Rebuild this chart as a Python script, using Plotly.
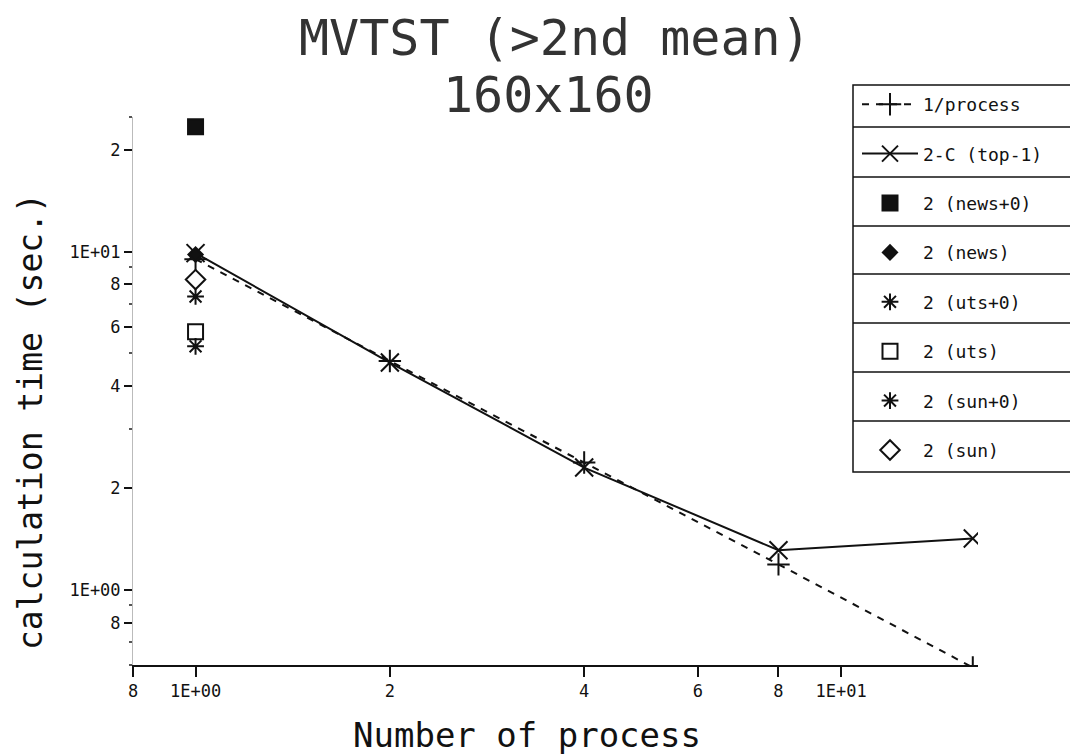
import plotly.graph_objects as go
import math

# ---- data ----
procs = [1, 2, 4, 8, 16]
ideal_time = [9.5, 4.75, 2.38, 1.19, 0.59]          # 1/process
top1_time = [9.9, 4.7, 2.3, 1.31, 1.42]              # 2-C (top-1)
single_x = [1]
news0_time = [23.4]
news_time = [9.8]
uts0_time = [7.37]
uts_time = [5.8]
sun0_time = [5.25]
sun_time = [8.27]

x_tickvals = [0.8, 1, 2, 4, 6, 8, 10]
x_ticktext = ["8", "1E+00", "2", "4", "6", "8", "1E+01"]
y_tickvals = [0.8, 1, 2, 4, 6, 8, 10, 20]
y_ticktext = ["8", "1E+00", "2", "4", "6", "8", "1E+01", "2"]
y_minor = [0.6, 0.7, 0.9, 3, 5, 7, 9, 25]

FONT = "DejaVu Sans Mono"
INK = "#111111"

fig = go.Figure()

def add(name, x, y, symbol, size, mode="markers", dash=None):
    fig.add_trace(go.Scatter(
        x=x, y=y, name=name, mode=mode,
        line=dict(color=INK, width=2, dash=dash) if "lines" in mode else None,
        marker=dict(symbol=symbol, size=size, color=INK,
                    line=dict(color=INK, width=2)),
        legendgroup=name,
    ))

add("1/process", procs, ideal_time, "cross-thin-open", 16, mode="lines+markers", dash="7px,7px")
add("2-C (top-1)", procs, top1_time, "x-thin-open", 18, mode="lines+markers")
add("2 (news+0)", single_x, news0_time, "square", 15)
add("2 (news)", single_x, news_time, "diamond", 11)
add("2 (uts+0)", single_x, uts0_time, "asterisk-open", 14)
add("2 (uts)", single_x, uts_time, "square-open", 15)
add("2 (sun+0)", single_x, sun0_time, "asterisk-open", 14)
add("2 (sun)", single_x, sun_time, "diamond-open", 15)

L, R, T, B = 133, 92, 117, 91
W, H = 1070, 756
pw, ph = W - L - R, H - T - B

def py(p):
    return (H - B - p) / ph

def px(p):
    return (p - L) / pw

# legend frame and separators
shapes = [dict(type="rect", xref="paper", yref="paper",
               x0=px(853), x1=px(1080), y0=py(472), y1=py(85),
               line=dict(color=INK, width=1.5))]
for s in [127, 177, 226, 274, 323, 372, 421]:
    shapes.append(dict(type="line", xref="paper", yref="paper",
                       x0=px(853), x1=px(1080), y0=py(s), y1=py(s),
                       line=dict(color=INK, width=1.5)))

annotations = [
    dict(text="MVTST (>2nd mean)", xref="paper", yref="paper", x=px(555), y=py(38),
         xanchor="center", yanchor="middle", showarrow=False,
         font=dict(family=FONT, size=50, color="#333")),
    dict(text="160x160", xref="paper", yref="paper", x=px(548), y=py(95),
         xanchor="center", yanchor="middle", showarrow=False,
         font=dict(family=FONT, size=50, color="#333")),
    dict(text="Number of process", xref="paper", yref="paper", x=px(527), y=py(735),
         xanchor="center", yanchor="middle", showarrow=False,
         font=dict(family=FONT, size=34, color=INK)),
    dict(text="calculation time (sec.)", xref="paper", yref="paper", x=px(30), y=py(422),
         xanchor="center", yanchor="middle", showarrow=False, textangle=-90,
         font=dict(family=FONT, size=33, color=INK)),
]

fig.update_layout(
    width=W, height=H,
    margin=dict(l=L, r=R, t=T, b=B),
    paper_bgcolor="white", plot_bgcolor="white",
    font=dict(family=FONT, color=INK),
    showlegend=True,
    legend=dict(x=px(857), y=py(86), xanchor="left", yanchor="top",
                borderwidth=0, bgcolor="rgba(0,0,0,0)",
                font=dict(family=FONT, size=18, color=INK),
                tracegroupgap=23, itemwidth=56, maxheight=1.0),
    shapes=shapes,
    annotations=annotations,
)

fig.update_xaxes(type="log", range=[math.log10(0.8), math.log10(16.3)],
                 tickvals=x_tickvals, ticktext=x_ticktext,
                 ticks="outside", ticklen=10, tickwidth=1.5, tickcolor=INK,
                 showline=True, linecolor=INK, linewidth=2,
                 showgrid=False, zeroline=False,
                 tickfont=dict(family=FONT, size=17, color=INK))
fig.update_yaxes(type="log", range=[math.log10(0.6), math.log10(25)],
                 tickvals=y_tickvals, ticktext=y_ticktext,
                 ticks="outside", ticklen=8, tickwidth=1.5, tickcolor=INK,
                 minor=dict(tickvals=y_minor, ticks="outside", ticklen=3, tickcolor="#555"),
                 showline=True, linecolor="#bbbbbb", linewidth=1,
                 showgrid=False, zeroline=False,
                 tickfont=dict(family=FONT, size=17, color=INK))

fig.write_html("out.html")
